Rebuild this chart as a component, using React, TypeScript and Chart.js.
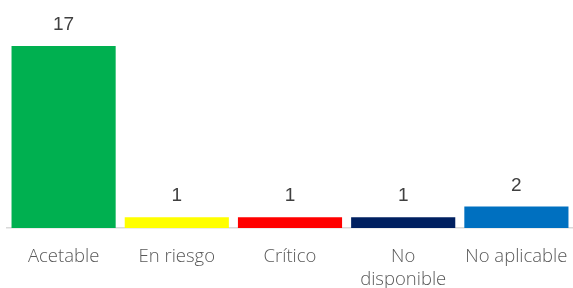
import React, { useEffect, useRef } from "react";
import { Chart, registerables } from "chart.js";

Chart.register(...registerables);

const categories: (string | string[])[] = ["Acetable", "En riesgo", "Crítico", ["No", "disponible"], "No aplicable"];
const values: number[] = [17, 1, 1, 1, 2];
const barColors: string[] = ["#00B050", "#FFFF00", "#FF0000", "#002060", "#0070C0"];

const valueLabels = {
  id: "valueLabels",
  afterDatasetsDraw(chart: any) {
    const ctx = chart.ctx;
    const meta = chart.getDatasetMeta(0);
    ctx.save();
    ctx.font = "19px 'Liberation Sans', Arial, sans-serif";
    ctx.fillStyle = "#404040";
    ctx.textAlign = "center";
    ctx.textBaseline = "alphabetic";
    meta.data.forEach((bar: any, i: number) => {
      ctx.fillText(String(values[i]), bar.x, bar.y - 16);
    });
    ctx.restore();
  },
};

export default function App() {
  const ref = useRef<HTMLCanvasElement>(null);
  useEffect(() => {
    const chart = new Chart(ref.current!, {
      type: "bar",
      data: {
        labels: categories,
        datasets: [
          {
            data: values,
            backgroundColor: barColors,
            barPercentage: 0.92,
            categoryPercentage: 1,
          },
        ],
      },
      options: {
        animation: false,
        responsive: false,
        maintainAspectRatio: false,
        layout: { padding: { top: 14, left: 7, right: 0, bottom: 0 } },
        plugins: { legend: { display: false }, tooltip: { enabled: false } },
        scales: {
          y: { display: false, min: 0, max: 20 },
          x: {
            grid: { display: false, drawTicks: false },
            border: { display: true, color: "#D9D9D9", width: 1.5 },
            afterFit: (scale: any) => {
              scale.height = 60;
              scale.paddingLeft = 0;
              scale.paddingRight = 0;
            },
            ticks: {
              padding: 17,
              color: "#595959",
              maxRotation: 0,
              autoSkip: false,
              font: { family: "'Open Sans', sans-serif", size: 18.5, weight: "300", lineHeight: 1.25 },
            },
          },
        },
      },
      plugins: [valueLabels],
    });
    return () => chart.destroy();
  }, []);
  return (
    <div style={{ position: "fixed", left: 0, top: 0, width: 573, height: 288, background: "#fff" }}>
      <canvas ref={ref} width={573} height={288} style={{ display: "block" }} />
    </div>
  );
}
